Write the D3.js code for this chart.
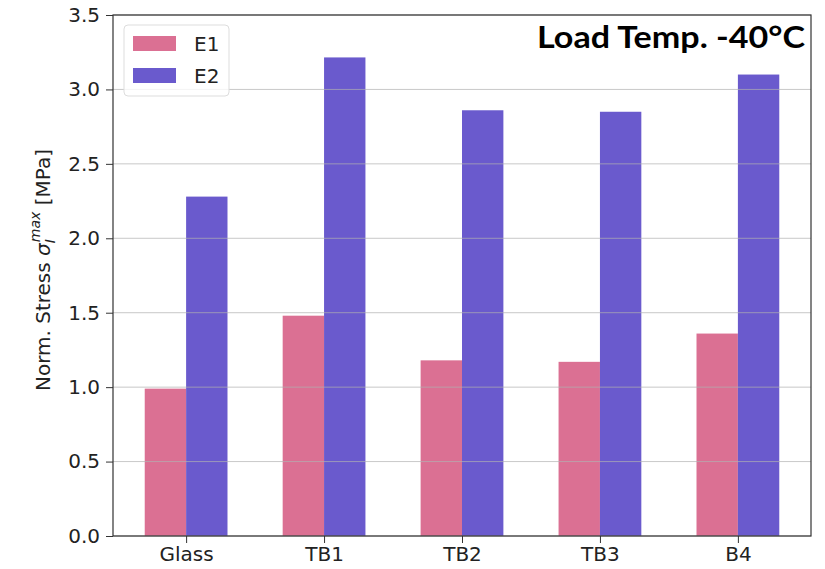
<!DOCTYPE html>
<html><head><meta charset="utf-8">
<script src="https://cdn.jsdelivr.net/npm/d3@7"></script>
<style>body{margin:0;background:#fff}</style>
</head><body>
<svg id="c" width="825" height="569"></svg>
<script>
const categories = ["Glass", "TB1", "TB2", "TB3", "B4"];
const seriesNames = ["E1", "E2"];
const e1 = [0.99, 1.48, 1.18, 1.17, 1.36];
const e2 = [2.28, 3.215, 2.86, 2.85, 3.10];
const yTicks = [0.0, 0.5, 1.0, 1.5, 2.0, 2.5, 3.0, 3.5];
const colors = ["#DB7093", "#6A5ACD"];

const svg = d3.select("#c");
const L = 113, R = 811, T = 15, B = 536;
const x = d3.scaleLinear().domain([-0.53, 4.53]).range([L, R]);
const y = d3.scaleLinear().domain([0, 3.5]).range([B, T]);
const bw = 0.3;
const font = "'DejaVu Sans', sans-serif";
const fs = 20;

const series = [e1, e2];
series.forEach((vals, si) => {
  svg.append("g").selectAll("rect").data(vals).join("rect")
    .attr("x", (d, i) => x(i + (si === 0 ? -bw : 0)))
    .attr("width", x(bw) - x(0))
    .attr("y", d => y(d))
    .attr("height", d => y(0) - y(d))
    .attr("fill", colors[si]);
});

// grid on top
svg.append("g").selectAll("line").data(yTicks).join("line")
  .attr("x1", L).attr("x2", R)
  .attr("y1", d => y(d)).attr("y2", d => y(d))
  .attr("stroke", "#b0b0b0").attr("stroke-opacity", 0.7).attr("stroke-width", 1);

// axes
const yAxis = d3.axisLeft(y).tickValues(yTicks).tickFormat(d3.format(".1f")).tickSizeOuter(0).tickSize(7).tickPadding(6);
const gy = svg.append("g").attr("transform", `translate(${L},0)`).call(yAxis);
const xAxis = d3.axisBottom(x).tickValues(d3.range(categories.length)).tickFormat(i => categories[i]).tickSizeOuter(0).tickSize(7).tickPadding(4);
const gx = svg.append("g").attr("transform", `translate(0,${B})`).call(xAxis);
[gx, gy].forEach(g => {
  g.select(".domain").remove();
  g.selectAll("line").attr("stroke", "#333");
  g.selectAll("text").attr("font-family", font).attr("font-size", fs).attr("fill", "#222");
});

// spines
svg.append("rect").attr("x", L).attr("y", T).attr("width", R - L).attr("height", B - T)
  .attr("fill", "none").attr("stroke", "#333").attr("stroke-width", 1.2);

// y label
const yl = svg.append("text")
  .attr("transform", `translate(50,270) rotate(-90)`)
  .attr("text-anchor", "middle")
  .attr("font-family", font).attr("font-size", fs).attr("fill", "#222");
yl.append("tspan").text("Norm. Stress ");
yl.append("tspan").attr("font-style", "italic").text("σ");
yl.append("tspan").attr("font-style", "italic").attr("font-size", 14).attr("dy", 5).text("I");
yl.append("tspan").attr("font-style", "italic").attr("font-size", 14).attr("dy", -15).attr("dx", -3).text("max");
yl.append("tspan").attr("dy", 10).text(" [MPa]");

// legend
const lg = svg.append("g");
lg.append("rect").attr("x", 124).attr("y", 25).attr("width", 105).attr("height", 71).attr("rx", 4)
  .attr("fill", "#fff").attr("fill-opacity", 0.8).attr("stroke", "#ddd");
seriesNames.forEach((n, i) => {
  lg.append("rect").attr("x", 133).attr("y", 36 + i * 32).attr("width", 43).attr("height", 15).attr("fill", colors[i]);
  lg.append("text").attr("x", 194).attr("y", 51 + i * 32).attr("font-family", font).attr("font-size", fs)
    .attr("fill", "#222").text(n);
});

// title
svg.append("text").attr("x", 805).attr("y", 48).attr("text-anchor", "end")
  .attr("font-family", "Lato, 'Open Sans', sans-serif").attr("font-weight", "bold").attr("font-size", 30)
  .attr("textLength", 268).attr("lengthAdjust", "spacingAndGlyphs")
  .attr("fill", "#000").text("Load Temp. -40°C");
</script>
</body></html>
